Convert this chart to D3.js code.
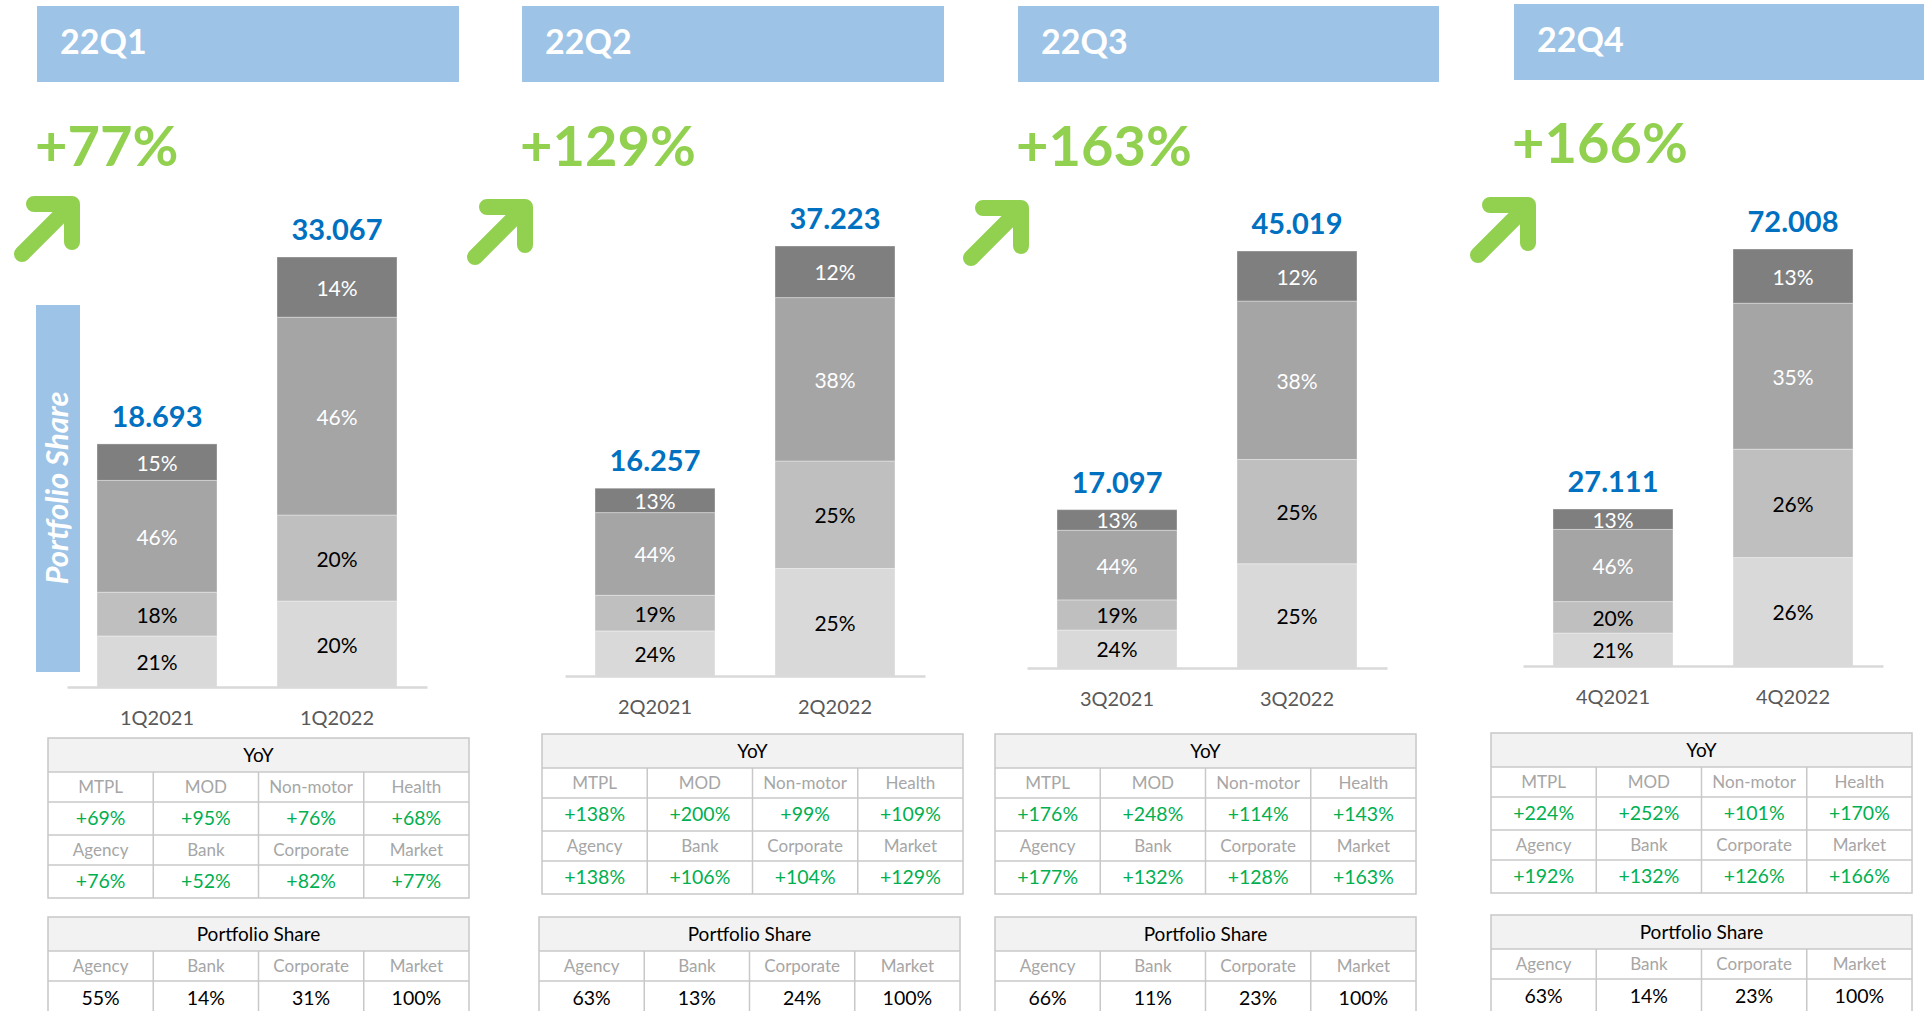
<!DOCTYPE html>
<html>
<head>
<meta charset="utf-8">
<script src="https://cdn.jsdelivr.net/npm/d3@7"></script>
<style>
  body { margin: 0; background: #fff; }
  svg { display: block; font-family: Lato, "Open Sans", sans-serif; }
</style>
</head>
<body>
<svg id="chart" width="1924" height="1011"></svg>
<script>
// data
const quarters = ["22Q1", "22Q2", "22Q3", "22Q4"];
const growth = ["+77%", "+129%", "+163%", "+166%"];
const periods = [["1Q2021", "1Q2022"], ["2Q2021", "2Q2022"], ["3Q2021", "3Q2022"], ["4Q2021", "4Q2022"]];
const totals = [[18.693, 33.067], [16.257, 37.223], [17.097, 45.019], [27.111, 72.008]];
// shares of each bar, bottom -> top
const shares = [
    [[21, 18, 46, 15], [20, 20, 46, 14]],
    [[24, 19, 44, 13], [25, 25, 38, 12]],
    [[24, 19, 44, 13], [25, 25, 38, 12]],
    [[21, 20, 46, 13], [26, 26, 35, 13]]
];
const yoyLabels1 = ["MTPL", "MOD", "Non-motor", "Health"];
const yoyLabels2 = ["Agency", "Bank", "Corporate", "Market"];
const yoyValues1 = [[69, 95, 76, 68], [138, 200, 99, 109], [176, 248, 114, 143], [224, 252, 101, 170]];
const yoyValues2 = [[76, 52, 82, 77], [138, 106, 104, 129], [177, 132, 128, 163], [192, 132, 126, 166]];
const shareLabels = ["Agency", "Bank", "Corporate", "Market"];
const shareValues = [[55, 14, 31, 100], [63, 13, 24, 100], [66, 11, 23, 100], [63, 14, 23, 100]];

// layout of every panel (pixels)
const layout = [
    {hx: 37, hy: 6, hw: 422, gy: 166, ax: 67, base: 687, maxH: 430, arrow: [72, 204], tx: 48, ty: 738, px: 48, py: 917},
    {hx: 522, hy: 6, hw: 422, gy: 166, ax: 565, base: 676, maxH: 430, arrow: [525, 207], tx: 542, ty: 734, px: 539, py: 917},
    {hx: 1018, hy: 6, hw: 421, gy: 166, ax: 1027, base: 668, maxH: 417, arrow: [1021, 208], tx: 995, ty: 734, px: 995, py: 917},
    {hx: 1514, hy: 4, hw: 410, gy: 163, ax: 1523, base: 666, maxH: 417, arrow: [1528, 205], tx: 1491, ty: 733, px: 1491, py: 915}
];

const segColors = ["#d9d9d9", "#bfbfbf", "#a5a5a5", "#7f7f7f"];
const segText = ["#000", "#000", "#fff", "#fff"];
const keys = ["s0", "s1", "s2", "s3"];
const green = "#92d050";
const blue = "#9dc3e6";

const svg = d3.select("#chart");

quarters.forEach(function (q, i) {
    const L = layout[i];
    const g = svg.append("g").attr("class", "panel");

    // header band
    g.append("rect")
        .attr("x", L.hx).attr("y", L.hy)
        .attr("width", L.hw).attr("height", 76)
        .attr("fill", blue);
    g.append("text")
        .attr("x", L.hx + 23).attr("y", L.hy + 48)
        .attr("fill", "#fff")
        .attr("font-weight", 700)
        .attr("font-size", 34)
        .text(q);

    // growth figure + arrow
    g.append("text")
        .attr("x", L.hx - 2).attr("y", L.gy)
        .attr("fill", green)
        .attr("font-weight", 700)
        .attr("font-size", 56)
        .text(growth[i]);

    const c = L.arrow;
    g.append("path")
        .attr("d", "M" + (c[0] - 50) + "," + (c[1] + 50) + "L" + c[0] + "," + c[1] +
            "M" + (c[0] - 38) + "," + c[1] + "L" + c[0] + "," + c[1] + "L" + c[0] + "," + (c[1] + 38))
        .attr("fill", "none")
        .attr("stroke", green)
        .attr("stroke-width", 16)
        .attr("stroke-linecap", "round")
        .attr("stroke-linejoin", "round");

    // stacked bars
    const rows = periods[i].map(function (p, j) {
        const r = {period: p, total: totals[i][j]};
        shares[i][j].forEach(function (s, k) { r[keys[k]] = totals[i][j] * s / 100; });
        return r;
    });

    const x = d3.scaleBand()
        .domain(periods[i])
        .range([L.ax, L.ax + 360])
        .paddingInner(1 / 3)
        .paddingOuter(1 / 6);

    const y = d3.scaleLinear()
        .domain([0, d3.max(totals[i])])
        .range([L.base, L.base - L.maxH]);

    const stacked = d3.stack().keys(keys)(rows);

    const layer = g.selectAll(".layer")
        .data(stacked)
        .enter().append("g")
        .attr("class", "layer");

    layer.selectAll("rect")
        .data(function (d) { return d; })
        .enter().append("rect")
        .attr("x", function (d) { return x(d.data.period); })
        .attr("y", function (d) { return y(d[1]); })
        .attr("width", x.bandwidth())
        .attr("height", function (d) { return y(d[0]) - y(d[1]); })
        .attr("fill", function () { return segColors[d3.select(this.parentNode).datum().index]; })
        .attr("stroke", "#fff")
        .attr("stroke-opacity", 0.35)
        .attr("stroke-width", 1);

    layer.selectAll("text")
        .data(function (d) {
            return d.map(function (e, j) { return {e: e, k: d.index, j: j}; });
        })
        .enter().append("text")
        .attr("x", function (d) { return x(d.e.data.period) + x.bandwidth() / 2; })
        .attr("y", function (d) { return (y(d.e[0]) + y(d.e[1])) / 2; })
        .attr("text-anchor", "middle")
        .attr("dominant-baseline", "central")
        .attr("font-size", 21)
        .attr("fill", function (d) { return segText[d.k]; })
        .text(function (d) { return shares[i][d.j][d.k] + "%"; });

    // totals above bars
    g.selectAll(".total")
        .data(rows)
        .enter().append("text")
        .attr("class", "total")
        .attr("x", function (d) { return x(d.period) + x.bandwidth() / 2; })
        .attr("y", function (d) { return y(d.total) - 17; })
        .attr("text-anchor", "middle")
        .attr("fill", "#0070c0")
        .attr("font-weight", 700)
        .attr("font-size", 29)
        .text(function (d) { return d3.format(".3f")(d.total); });

    // category axis
    const axis = g.append("g")
        .attr("transform", "translate(0," + L.base + ")")
        .call(d3.axisBottom(x).tickSize(0).tickPadding(24).tickSizeOuter(0));
    axis.select(".domain").attr("stroke", "#d9d9d9").attr("stroke-width", 2.5);
    axis.selectAll("text")
        .attr("font-family", "Lato, 'Open Sans', sans-serif")
        .attr("font-size", 20)
        .attr("fill", "#595959");

    // tables
    drawTable(g, L.tx, L.ty, "YoY", [
        {cells: yoyLabels1, h: 30, kind: "label"},
        {cells: yoyValues1[i].map(function (v) { return "+" + v + "%"; }), h: 33, kind: "yoy"},
        {cells: yoyLabels2, h: 30, kind: "label"},
        {cells: yoyValues2[i].map(function (v) { return "+" + v + "%"; }), h: 33, kind: "yoy"}
    ]);
    drawTable(g, L.px, L.py, "Portfolio Share", [
        {cells: shareLabels, h: 30, kind: "label"},
        {cells: shareValues[i].map(function (v) { return v + "%"; }), h: 34, kind: "share"}
    ]);
});

// vertical tag on the first panel
svg.append("rect")
    .attr("x", 36).attr("y", 305)
    .attr("width", 44).attr("height", 367)
    .attr("fill", blue);
svg.append("text")
    .attr("transform", "translate(68,488) rotate(-90)")
    .attr("text-anchor", "middle")
    .attr("fill", "#fff")
    .attr("font-weight", 700)
    .attr("font-style", "italic")
    .attr("font-size", 31)
    .text("Portfolio Share");

function drawTable(g, x0, y0, title, rows) {
    const w = 421, colW = w / 4, headH = 34;
    const t = g.append("g").attr("class", "table");
    const totalH = headH + d3.sum(rows, function (r) { return r.h; });

    t.append("rect")
        .attr("x", x0).attr("y", y0)
        .attr("width", w).attr("height", headH)
        .attr("fill", "#f2f2f2");
    t.append("text")
        .attr("x", x0 + w / 2).attr("y", y0 + headH / 2 - 1)
        .attr("text-anchor", "middle")
        .attr("dominant-baseline", "central")
        .attr("font-size", 19)
        .attr("fill", "#000")
        .text(title);

    let yy = y0 + headH;
    rows.forEach(function (r) {
        t.append("line")
            .attr("x1", x0).attr("x2", x0 + w)
            .attr("y1", yy).attr("y2", yy)
            .attr("stroke", "#c8c8c8").attr("stroke-width", 1.5);
        t.selectAll(null)
            .data(r.cells)
            .enter().append("text")
            .attr("x", function (d, k) { return x0 + colW * k + colW / 2; })
            .attr("y", yy + r.h / 2 - 1)
            .attr("text-anchor", "middle")
            .attr("dominant-baseline", "central")
            .attr("font-size", r.kind === "label" ? 17 : 19.5)
            .attr("fill", r.kind === "label" ? "#a6a6a6" : (r.kind === "yoy" ? "#00b050" : "#000"))
            .text(function (d) { return d; });
        yy += r.h;
    });

    // column separators and frame
    [1, 2, 3].forEach(function (k) {
        t.append("line")
            .attr("x1", x0 + colW * k).attr("x2", x0 + colW * k)
            .attr("y1", y0 + headH).attr("y2", y0 + totalH)
            .attr("stroke", "#c8c8c8").attr("stroke-width", 1.5);
    });
    t.append("rect")
        .attr("x", x0).attr("y", y0)
        .attr("width", w).attr("height", totalH)
        .attr("fill", "none")
        .attr("stroke", "#c8c8c8").attr("stroke-width", 1.5);
}
</script>
</body>
</html>
